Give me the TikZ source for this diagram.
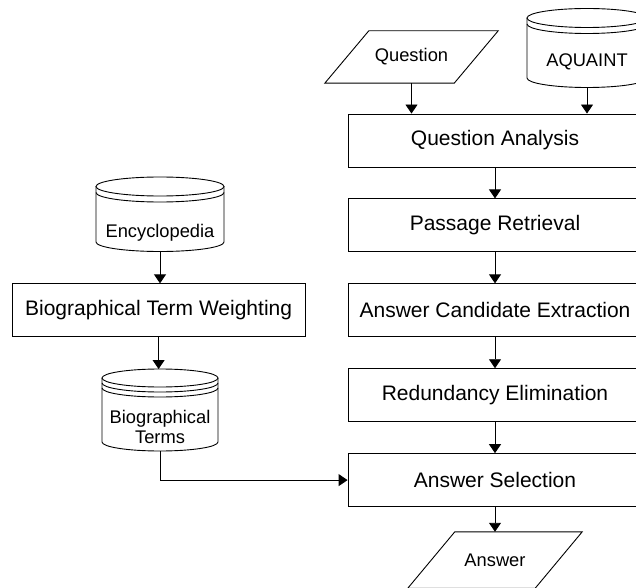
\documentclass[tikz,border=0pt]{standalone}
\usepackage{fontspec}
\setmainfont{Liberation Sans}
\usetikzlibrary{positioning, arrows.meta, calc}

\tikzset{
  procbox/.style={draw, line width=0.9pt, minimum width=294pt, minimum height=53pt,
                  inner sep=0pt, font=\fontsize{21}{24}\selectfont},
  iobox/.style={minimum width=129pt, minimum height=52pt, inner sep=0pt,
                font=\fontsize{18.3}{21}\selectfont},
  storetext/.style={align=center, inner sep=0pt, font=\fontsize{18.3}{20.5}\selectfont},
  storeline/.style={line width=0.9pt},
  flow/.style={line width=0.9pt, -{Triangle[width=12pt,length=9pt]}},
}

% #1 node, #2 half of the slant
\newcommand{\ioshape}[2]{%
  \draw[storeline] ($(#1.south west)+(-#2,0)$) -- ($(#1.south east)+(-#2,0)$)
     -- ($(#1.north east)+(#2,0)$) -- ($(#1.north west)+(#2,0)$) -- cycle;
}

% #1 name, #2 centre of top ellipse, #3 x radius, #4 y radius, #5 side length, #6 band offsets
\newcommand{\dbstore}[6]{%
  \draw[storeline] ($#2+(-#3,0)$) -- ++(0,-#5)
     arc[start angle=180, end angle=360, x radius=#3pt, y radius=#4pt] -- ++(0,#5);
  \draw[storeline] #2 ellipse[x radius=#3pt, y radius=#4pt];
  \foreach \o in {#6}
    \draw[storeline] ($#2+(-#3,-\o)$) arc[start angle=180, end angle=360, x radius=#3pt, y radius=#4pt];
  \coordinate (#1-t) at ($#2+(0,#4)$);
  \coordinate (#1-b) at ($#2+(0,-#5-#4)$);
}

\begin{document}
\begin{tikzpicture}[x=1pt, y=1pt]
\useasboundingbox (0,0) rectangle (636,587);
\clip (0,0) rectangle (636,587);
%
\node[procbox] (qa) at (495,446.5) {Question Analysis};
\node[procbox, below=31pt of qa] (pr) {Passage Retrieval};
\node[procbox, below=31pt of pr] (ace) {Answer Candidate Extraction};
\node[procbox, below=31pt of ace] (re) {Redundancy Elimination};
\node[procbox, below=31pt of re] (as) {Answer Selection};
\node[procbox, minimum width=293pt, left=42pt of ace] (btw) {Biographical Term Weighting};
%
\node[iobox] (q) at (411.5,530) {Question};
\ioshape{q}{22}
\node[iobox, minimum height=56pt, minimum width=127pt] (ans) at (495,27) {Answer};
\ioshape{ans}{23.5}
%
\node[storetext] (aq) at (587,525) {AQUAINT};
\dbstore{aqs}{(587,569)}{60}{9.5}{60}{6}
\node[storetext] (enc) at (160,354) {Encyclopedia};
\dbstore{encs}{(160,400.5)}{64}{9.5}{55.5}{6}
\node[storetext] (bt) at (160,160) {Biographical\\Terms};
\dbstore{bts}{(160,209)}{58}{9}{64}{5,10}
%
\draw[flow] (q.south) -- (q.south |- qa.north);
\draw[flow] (aqs-b) -- (aqs-b |- qa.north);
\draw[flow] (qa.south) -- (pr.north);
\draw[flow] (pr.south) -- (ace.north);
\draw[flow] (ace.south) -- (re.north);
\draw[flow] (re.south) -- (as.north);
\draw[flow] (as.south) -- (as.south |- ans.north);
\draw[flow] (encs-b) -- (encs-b |- btw.north);
\draw[flow] (btw.south) -- (btw.south |- bts-t);
\draw[flow] (bts-b) |- (as.west);
%
\end{tikzpicture}
\end{document}
